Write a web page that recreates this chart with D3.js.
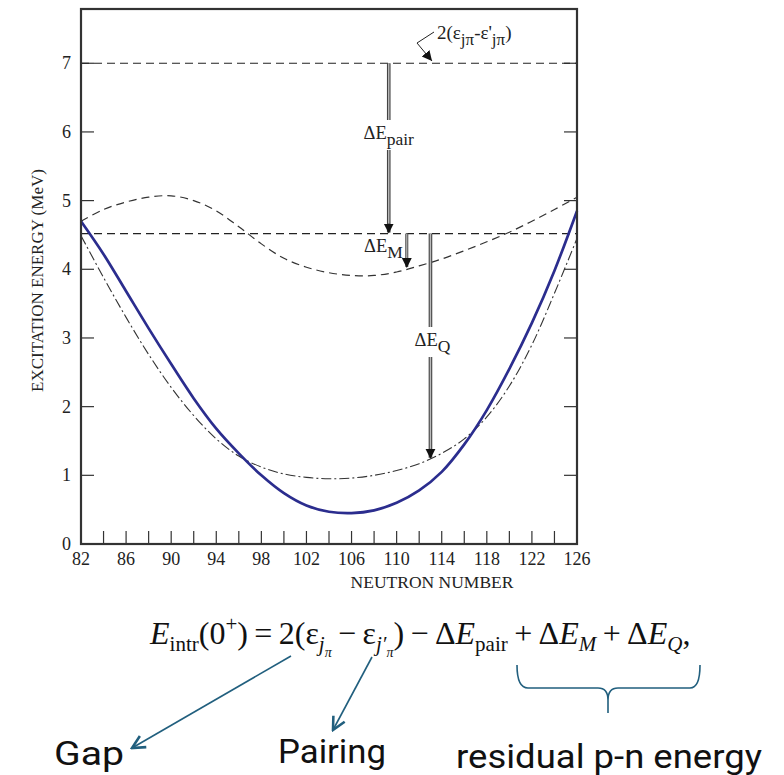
<!DOCTYPE html>
<html>
<head>
<meta charset="utf-8">
<script src="https://cdn.jsdelivr.net/npm/d3@7"></script>
<style>
  body { margin: 0; background: #fff; }
  svg { display: block; }
</style>
</head>
<body>
<svg id="chart" width="784" height="775"></svg>
<script>
// neutron numbers sampled every 2
const neutrons = [82, 84, 86, 88, 90, 92, 94, 96, 98, 100, 102, 104, 106, 108, 110, 112, 114, 116, 118, 120, 122, 124, 126];

// dashed: gap - pairing + monopole
const withMonopole = [4.70, 4.87, 4.98, 5.05, 5.07, 5.00, 4.85, 4.62, 4.37, 4.16, 4.03, 3.95, 3.91, 3.91, 3.96, 4.05, 4.15, 4.27, 4.40, 4.54, 4.70, 4.87, 5.05];
// dash-dot: gap - pairing + quadrupole
const withQuadrupole = [4.49, 3.88, 3.30, 2.76, 2.28, 1.87, 1.53, 1.28, 1.12, 1.02, 0.97, 0.95, 0.96, 1.00, 1.07, 1.17, 1.32, 1.53, 1.85, 2.30, 2.90, 3.65, 4.45];
// solid blue: total
const total = [4.70, 4.22, 3.68, 3.14, 2.62, 2.12, 1.68, 1.32, 1.00, 0.74, 0.56, 0.47, 0.45, 0.49, 0.60, 0.78, 1.05, 1.45, 1.95, 2.55, 3.22, 3.98, 4.85];

const gapLevel = 7.0;
const pairLevel = 4.52;

const yTicks = [0, 1, 2, 3, 4, 5, 6, 7];
const xMinorTicks = d3.range(84, 126, 2);
const xLabels = [82, 86, 90, 94, 98, 102, 106, 110, 114, 118, 122, 126];

// arrows: [neutron, from, to]
const arrowPair = [109.3, 7.0, 4.52];
const arrowM = [110.9, 4.52, 4.02];
const arrowQ = [113.0, 4.52, 1.24];

const SERIF = '"Liberation Serif", "Times New Roman", Times, serif';
const NOTE = 'Roboto, "Noto Sans", sans-serif';

const svg = d3.select('#chart');

const x = d3.scaleLinear().domain([82, 126]).range([81, 577]);
const y = d3.scaleLinear().domain([0, 7.79]).range([544, 9]);

let defs = svg.append('defs');
defs.append('marker')
    .attr('id', 'head')
    .attr('viewBox', '0 0 10 10')
    .attr('refX', 10).attr('refY', 5)
    .attr('markerWidth', 10).attr('markerHeight', 12)
    .attr('markerUnits', 'userSpaceOnUse')
    .attr('orient', 'auto')
    .append('path').attr('d', 'M0,0 L10,5 L0,10 z').attr('fill', '#111');

defs.append('marker')
    .attr('id', 'tealHead')
    .attr('viewBox', '0 0 10 10')
    .attr('refX', 9).attr('refY', 5)
    .attr('markerWidth', 16).attr('markerHeight', 16)
    .attr('markerUnits', 'userSpaceOnUse')
    .attr('orient', 'auto')
    .append('path').attr('d', 'M1,1 L9,5 L1,9').attr('fill', 'none')
    .attr('stroke', '#215f7e').attr('stroke-width', 1.6);

let g = svg.append('g').attr('font-family', SERIF);

// ticks inside the frame
g.selectAll('.ytl').data(yTicks).enter().append('line')
    .attr('x1', x(82)).attr('x2', x(82) + 13)
    .attr('y1', d => y(d)).attr('y2', d => y(d))
    .attr('stroke', '#333').attr('stroke-width', 1.2);
g.selectAll('.ytr').data(yTicks).enter().append('line')
    .attr('x1', x(126)).attr('x2', x(126) - 13)
    .attr('y1', d => y(d)).attr('y2', d => y(d))
    .attr('stroke', '#333').attr('stroke-width', 1.2);
g.selectAll('.xt').data(xMinorTicks).enter().append('line')
    .attr('x1', d => x(d)).attr('x2', d => x(d))
    .attr('y1', y(0)).attr('y2', y(0) - 13)
    .attr('stroke', '#333').attr('stroke-width', 1.2);

g.selectAll('.yl').data(yTicks).enter().append('text')
    .attr('x', 71).attr('y', d => y(d) + 6)
    .attr('text-anchor', 'end')
    .attr('font-size', 18).attr('fill', '#222')
    .text(d => d);
g.selectAll('.xl').data(xLabels).enter().append('text')
    .attr('x', d => x(d)).attr('y', 565)
    .attr('text-anchor', 'middle')
    .attr('font-size', 18).attr('fill', '#222')
    .text(d => d);

g.append('text')
    .attr('transform', 'translate(43,' + ((y(0) + y(7.79)) / 2 + 4) + ') rotate(-90)')
    .attr('text-anchor', 'middle').attr('font-size', 17).attr('fill', '#222')
    .text('EXCITATION ENERGY (MeV)');
g.append('text')
    .attr('x', 432).attr('y', 588)
    .attr('text-anchor', 'middle').attr('font-size', 17.5).attr('fill', '#222')
    .text('NEUTRON NUMBER');

// horizontal reference levels
[gapLevel, pairLevel].forEach(v => {
    g.append('line')
        .attr('x1', x(82)).attr('x2', x(126))
        .attr('y1', y(v)).attr('y2', y(v))
        .attr('stroke', '#222').attr('stroke-width', 1.2)
        .attr('stroke-dasharray', '8,5');
});

let line = d3.line()
    .x((d, i) => x(neutrons[i]))
    .y(d => y(d))
    .curve(d3.curveCatmullRom.alpha(0.5));

g.append('path').datum(withMonopole)
    .attr('d', line).attr('fill', 'none')
    .attr('stroke', '#333').attr('stroke-width', 1.2)
    .attr('stroke-dasharray', '8,5');
g.append('path').datum(withQuadrupole)
    .attr('d', line).attr('fill', 'none')
    .attr('stroke', '#333').attr('stroke-width', 1.1)
    .attr('stroke-dasharray', '10,3,2,3');
g.append('path').datum(total)
    .attr('d', line).attr('fill', 'none')
    .attr('stroke', '#2b2d8e').attr('stroke-width', 2.7);

// double-line arrows
function arrow(a, outer, inner) {
    let ax = x(a[0]);
    g.append('line')
        .attr('x1', ax).attr('x2', ax)
        .attr('y1', y(a[1])).attr('y2', y(a[2]) - 1)
        .attr('stroke', '#444').attr('stroke-width', outer);
    g.append('line')
        .attr('x1', ax).attr('x2', ax)
        .attr('y1', y(a[1])).attr('y2', y(a[2]) - 10)
        .attr('stroke', '#bbb').attr('stroke-width', inner);
    g.append('line')
        .attr('x1', ax).attr('x2', ax)
        .attr('y1', y(a[2]) - 12).attr('y2', y(a[2]))
        .attr('stroke', 'none')
        .attr('marker-end', 'url(#head)');
}
arrow(arrowPair, 3.6, 1.4);
arrow(arrowM, 3, 1.2);
arrow(arrowQ, 3.6, 1.4);

// labels on arrows (with white gaps)
function deltaLabel(cx, cy, sub, anchor, gap) {
    if (gap) {
        g.append('rect').attr('x', cx - gap / 2).attr('y', cy - 19)
            .attr('width', gap).attr('height', 30).attr('fill', '#fff');
    }
    let t = g.append('text')
        .attr('x', cx).attr('y', cy)
        .attr('text-anchor', anchor).attr('font-size', 18.5).attr('fill', '#222');
    t.append('tspan').text('\u0394E');
    t.append('tspan').attr('dy', 6).attr('font-size', 17.5).text(sub);
}
deltaLabel(x(arrowPair[0]), 139, 'pair', 'middle', 60);
deltaLabel(x(arrowM[0]) - 4, 252, 'M', 'end', 0);
deltaLabel(x(arrowQ[0]) + 2, 346, 'Q', 'middle', 44);

// gap label with leader
let lt = g.append('text')
    .attr('x', 437).attr('y', 39).attr('font-size', 19).attr('fill', '#222');
lt.append('tspan').text('2(\u03b5');
lt.append('tspan').attr('dy', 6).attr('font-size', 17).text('j\u03c0');
lt.append('tspan').attr('dy', -6).text('-\u03b5\'');
lt.append('tspan').attr('dy', 6).attr('font-size', 17).text('j\u03c0');
lt.append('tspan').attr('dy', -6).text(')');
g.append('path')
    .attr('d', 'M434,32 L417,43 L432,61')
    .attr('fill', 'none').attr('stroke', '#222').attr('stroke-width', 1)
    .attr('marker-end', 'url(#head)');

// frame
g.append('rect')
    .attr('x', x(82)).attr('y', y(7.79))
    .attr('width', x(126) - x(82)).attr('height', y(0) - y(7.79))
    .attr('fill', 'none').attr('stroke', '#333').attr('stroke-width', 2.2);

// equation
let eq = svg.append('text').attr('font-family', SERIF)
    .attr('x', 150).attr('y', 644).attr('font-size', 32).attr('fill', '#111');
eq.append('tspan').attr('font-style', 'italic').text('E');
eq.append('tspan').attr('dy', 7).attr('font-size', 21).text('intr');
eq.append('tspan').attr('dy', -7).text('(0');
eq.append('tspan').attr('dy', -13).attr('font-size', 21).text('+');
eq.append('tspan').attr('dy', 13).text(')\u2009=\u20092(\u03b5');
eq.append('tspan').attr('dy', 7).attr('font-size', 21).attr('font-style', 'italic').text('j');
eq.append('tspan').attr('dy', 6).attr('font-size', 14).attr('font-style', 'italic').text('\u03c0');
eq.append('tspan').attr('dy', -13).text('\u2009\u2212\u2009\u03b5');
eq.append('tspan').attr('dy', 7).attr('font-size', 21).attr('font-style', 'italic').text('j\u2032');
eq.append('tspan').attr('dy', 6).attr('font-size', 14).attr('font-style', 'italic').text('\u03c0');
eq.append('tspan').attr('dy', -13).text(')\u2009\u2212\u2009\u0394');
eq.append('tspan').attr('font-style', 'italic').text('E');
eq.append('tspan').attr('dy', 7).attr('font-size', 21).text('pair');
eq.append('tspan').attr('dy', -7).text('\u2009+\u2009\u0394');
eq.append('tspan').attr('font-style', 'italic').text('E');
eq.append('tspan').attr('dy', 7).attr('font-size', 21).attr('font-style', 'italic').text('M');
eq.append('tspan').attr('dy', -7).text('\u2009+\u2009\u0394');
eq.append('tspan').attr('font-style', 'italic').text('E');
eq.append('tspan').attr('dy', 7).attr('font-size', 21).attr('font-style', 'italic').text('Q');
eq.append('tspan').attr('dy', -7).text(',');

// annotation arrows and brace
let teal = '#215f7e';
svg.append('line').attr('x1', 291).attr('y1', 656).attr('x2', 132).attr('y2', 748)
    .attr('stroke', teal).attr('stroke-width', 1.6).attr('marker-end', 'url(#tealHead)');
svg.append('line').attr('x1', 372).attr('y1', 657).attr('x2', 333).attr('y2', 730)
    .attr('stroke', teal).attr('stroke-width', 1.6).attr('marker-end', 'url(#tealHead)');
svg.append('path')
    .attr('d', 'M517,665 Q517,688 528,688 L598,688 Q608,688 608,700 L608,713 M608,700 Q608,688 618,688 L690,688 Q700,688 700,665')
    .attr('fill', 'none').attr('stroke', teal).attr('stroke-width', 1.6);

let notes = svg.append('g').attr('font-family', NOTE).attr('font-size', 33).attr('fill', '#111');
notes.append('text').attr('x', 54).attr('y', 765)
    .attr('textLength', 70).attr('lengthAdjust', 'spacingAndGlyphs')
    .text('Gap');
notes.append('text').attr('x', 278).attr('y', 763)
    .attr('textLength', 108).attr('lengthAdjust', 'spacingAndGlyphs')
    .text('Pairing');
notes.append('text').attr('x', 456).attr('y', 768)
    .attr('textLength', 306).attr('lengthAdjust', 'spacingAndGlyphs')
    .text('residual p-n energy');
</script>
</body>
</html>
